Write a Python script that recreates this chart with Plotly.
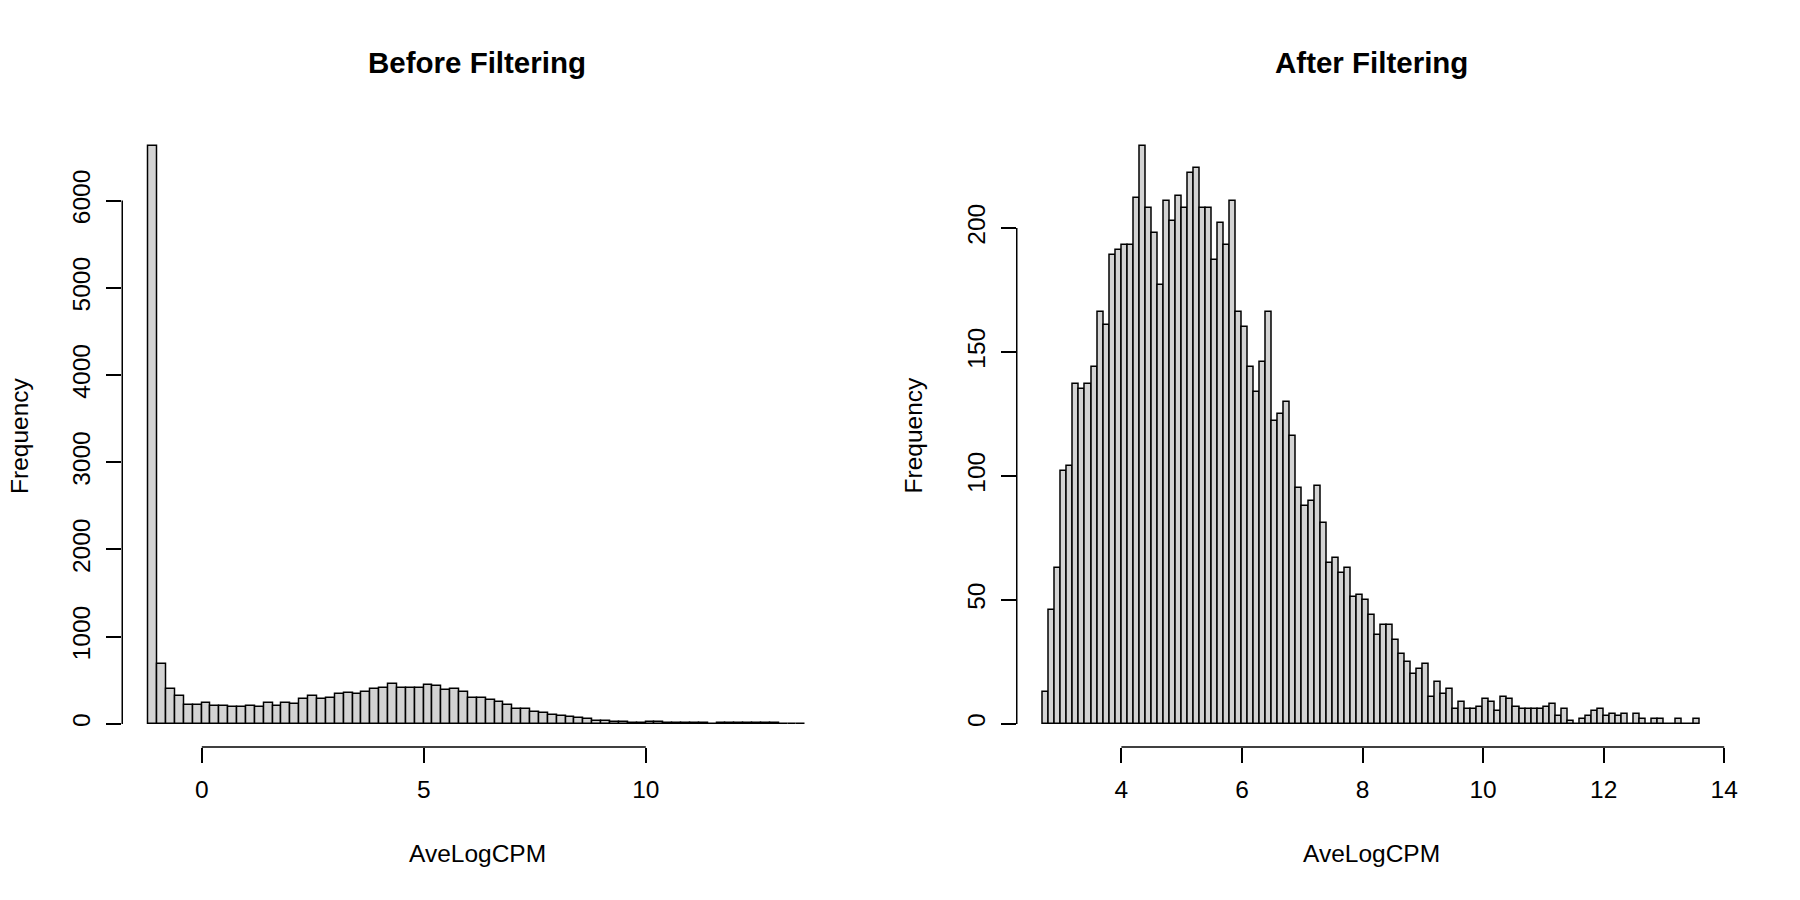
import plotly.graph_objects as go

# ---------------- data ----------------
# Before filtering: histogram of AveLogCPM, bins of width 0.2 starting at -1.2
before_start = -1.2
before_width = 0.2
before_counts = [
    6625, 690, 403, 315, 220, 220, 239, 200, 204, 197, 197, 200, 193, 243, 200, 239,
    231, 285, 315, 281, 296, 346, 357, 338, 369, 399, 414, 456, 411, 411, 411, 445,
    434, 392, 395, 365,
    298, 298, 271, 252, 218, 176, 172, 134, 126, 99, 92, 80, 69, 53, 38, 34,
    23, 19, 15, 15, 19, 19, 15, 11, 11, 15, 11, 4, 11, 15, 11, 11, 8, 8, 11, 4, 4, 4,
]

# After filtering: histogram of AveLogCPM, bins of width 0.1 starting at 2.7
after_start = 2.7
after_width = 0.1
after_counts = [
    13, 46, 63, 102, 104, 137, 135, 137, 144, 166, 161, 189, 191, 193, 193, 212,
    233, 208, 198, 177, 211, 203, 213, 208, 222, 224, 208, 208, 187, 202, 193, 211,
    166, 160, 144, 134, 146, 166, 122, 125, 130, 116, 95, 88, 90, 96, 81, 65,
    67, 61, 63, 51, 52, 50, 44, 36, 40, 40, 34, 28, 25, 20, 22, 24,
    11, 17, 12, 14, 6, 9, 6, 6, 7, 10, 9, 5, 11, 10, 7, 6,
    6, 6, 6, 7, 8, 3, 6, 1, 0, 2, 3, 5, 6, 3, 4, 3,
    4, 0, 4, 2, 0, 2, 2, 0, 0, 2, 0, 0, 2,
]

before_xticks = [0, 5, 10]
before_yticks = [0, 1000, 2000, 3000, 4000, 5000, 6000]
after_xticks = [4, 6, 8, 10, 12, 14]
after_yticks = [0, 50, 100, 150, 200]

titles = ["Before Filtering", "After Filtering"]
xlabel = "AveLogCPM"
ylabel = "Frequency"

# ---------------- layout helpers ----------------
W, H = 1800, 900
FONT = "Liberation Sans, Arial, Helvetica, sans-serif"
TICK_SIZE = 24.5
TITLE_SIZE = 29.5
LW = 1.5
FILL = "#D3D3D3"

def centers(start, width, n):
    return [round(start + width * (i + 0.5), 4) for i in range(n)]

def r_range(lo, hi):
    d = (hi - lo) * 0.04
    return [lo - d, hi + d]

def px(v):   # page x pixel -> paper
    return v / W

def py(v):   # page y pixel -> paper
    return 1 - v / H

bx = centers(before_start, before_width, len(before_counts))
ax = centers(after_start, after_width, len(after_counts))

b_xr = r_range(before_start, before_start + before_width * len(before_counts))
a_xr = r_range(after_start, after_start + after_width * len(after_counts))
b_yr = r_range(0, max(before_counts))
a_yr = r_range(0, max(after_counts))

# plot regions (page pixels)
left1, right1 = 123, 837
left2, right2 = 1023, 1737
top, bottom = 123, 747
ydom = [py(bottom), py(top)]

fig = go.Figure()
fig.add_trace(go.Bar(x=bx, y=before_counts, width=before_width,
                     marker=dict(color=FILL, line=dict(color="black", width=LW)),
                     xaxis="x", yaxis="y", hoverinfo="x+y"))
fig.add_trace(go.Bar(x=ax, y=after_counts, width=after_width,
                     marker=dict(color=FILL, line=dict(color="black", width=LW)),
                     xaxis="x2", yaxis="y2", hoverinfo="x+y"))

common_axis = dict(showgrid=False, zeroline=False, showline=False,
                   ticks="outside", ticklen=15, tickwidth=LW, tickcolor="black",
                   tickfont=dict(family=FONT, size=TICK_SIZE, color="black"),
                   fixedrange=True)

fig.update_layout(
    width=W, height=H,
    margin=dict(l=0, r=0, t=0, b=0),
    paper_bgcolor="white", plot_bgcolor="white",
    showlegend=False, bargap=0,
    xaxis=dict(domain=[px(left1), px(right1)], range=b_xr, tickmode="array",
               tickvals=before_xticks, anchor="y", ticklabelstandoff=6, **common_axis),
    yaxis=dict(domain=ydom, range=b_yr, tickmode="array", tickvals=before_yticks,
               tickangle=-90, anchor="x", ticklabelstandoff=6, **common_axis),
    xaxis2=dict(domain=[px(left2), px(right2)], range=a_xr, tickmode="array",
                tickvals=after_xticks, anchor="y2", ticklabelstandoff=6, **common_axis),
    yaxis2=dict(domain=ydom, range=a_yr, tickmode="array", tickvals=after_yticks,
                tickangle=-90, anchor="x2", ticklabelstandoff=6, **common_axis),
)

# R-style axis lines spanning only the tick range
line = dict(color="black", width=LW)
shapes = [
    dict(type="line", xref="x", yref="paper", x0=min(before_xticks), x1=max(before_xticks),
         y0=ydom[0], y1=ydom[0], line=line),
    dict(type="line", xref="paper", yref="y", x0=px(left1), x1=px(left1),
         y0=min(before_yticks), y1=max(before_yticks), line=line),
    dict(type="line", xref="x2", yref="paper", x0=min(after_xticks), x1=max(after_xticks),
         y0=ydom[0], y1=ydom[0], line=line),
    dict(type="line", xref="paper", yref="y2", x0=px(left2), x1=px(left2),
         y0=min(after_yticks), y1=max(after_yticks), line=line),
]
fig.update_layout(shapes=shapes)

ann = []
for (l, r), t in zip([(left1, right1), (left2, right2)], titles):
    cx = px((l + r) / 2)
    ann.append(dict(text="<b>%s</b>" % t, x=cx, y=py(62), xref="paper", yref="paper",
                    showarrow=False, xanchor="center", yanchor="middle",
                    font=dict(family=FONT, size=TITLE_SIZE, color="black")))
    ann.append(dict(text=xlabel, x=cx, y=py(853), xref="paper", yref="paper",
                    showarrow=False, xanchor="center", yanchor="middle",
                    font=dict(family=FONT, size=TICK_SIZE, color="black")))
    ann.append(dict(text=ylabel, x=px(l - 104), y=(ydom[0] + ydom[1]) / 2,
                    xref="paper", yref="paper", textangle=-90,
                    showarrow=False, xanchor="center", yanchor="middle",
                    font=dict(family=FONT, size=TICK_SIZE, color="black")))
fig.update_layout(annotations=ann)

# remove the default page margin so the 1800x900 figure fills the window exactly
fig.write_html("out.html", config={"displayModeBar": False},
               post_script="document.body.style.margin='0px';"
                           "document.body.style.overflow='hidden';")
